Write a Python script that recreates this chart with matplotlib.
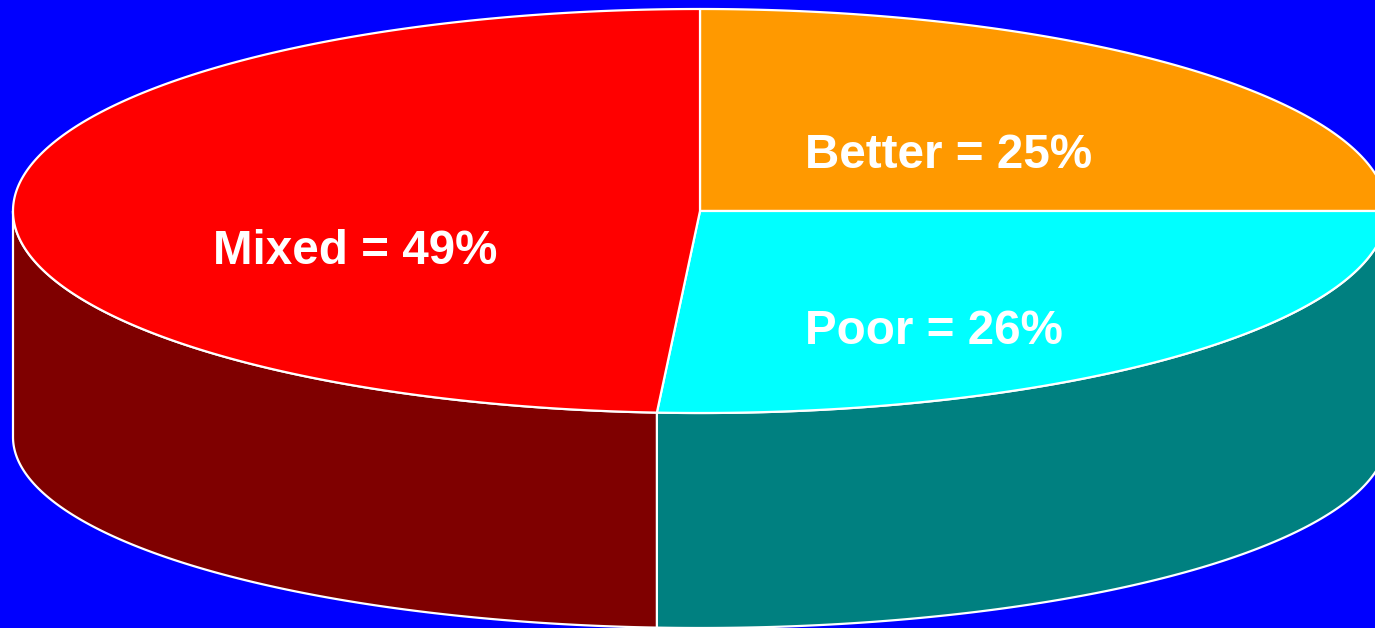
import numpy as np
import matplotlib
matplotlib.use("Agg")
import matplotlib.pyplot as plt
from matplotlib.patches import Polygon

# Survey result shares (percent)
labels = ["Better", "Poor", "Mixed"]
shares = [25, 26, 49]
top_colors = ["#FF9900", "#00FFFF", "#FF0000"]
side_colors = ["#7F4C00", "#008080", "#7F0000"]

W, H = 1375, 628
fig = plt.figure(figsize=(W / 100, H / 100), dpi=100, facecolor="#0000FF")
ax = fig.add_axes([0, 0, 1, 1])
ax.set_facecolor("#0000FF")
ax.set_xlim(0, W)
ax.set_ylim(H, 0)
ax.axis("off")

# Cylinder geometry in pixel space (bottom rim slightly flatter for perspective)
cx, cy = 700, 211
a, b = 687, 202
depth = 226
b_bottom = 191


def pt(theta_deg, bottom=False):
    t = np.radians(theta_deg)
    if bottom:
        return np.column_stack([cx + a * np.cos(t), cy + depth - b_bottom * np.sin(t)])
    return np.column_stack([cx + a * np.cos(t), cy - b * np.sin(t)])


# Wedge angles: start at 12 o'clock, go clockwise
total = sum(shares)
bounds = []
start = 90.0
for s in shares:
    end = start - 360.0 * s / total
    bounds.append((start, end))
    start = end

edge_kw = dict(edgecolor="white", linewidth=1.6, joinstyle="round")

# Side walls (only the front half, angles in (-180, 0))
for (t0, t1), sc in zip(bounds, side_colors):
    lo, hi = min(t0, t1), max(t0, t1)
    for shift in (0, -360, 360):
        l, h = lo + shift, hi + shift
        l2, h2 = max(l, -180), min(h, 0)
        if h2 > l2:
            th = np.linspace(h2, l2, 200)
            top = pt(th)
            bot = pt(th[::-1], bottom=True)
            ax.add_patch(Polygon(np.vstack([top, bot]), closed=True,
                                 facecolor=sc, zorder=1, **edge_kw))

# Top faces
for (t0, t1), tc in zip(bounds, top_colors):
    th = np.linspace(t0, t1, 300)
    poly = np.vstack([[cx, cy], pt(th)])
    ax.add_patch(Polygon(poly, closed=True, facecolor=tc, zorder=2, **edge_kw))

# Labels
label_pos = {"Better": (805, 155), "Poor": (805, 331), "Mixed": (213, 251)}
for lab, s in zip(labels, shares):
    x, y = label_pos[lab]
    ax.text(x, y, f"{lab} = {s}%", color="white", fontsize=34.3,
            fontweight="bold", family=["Liberation Sans", "DejaVu Sans"],
            ha="left", va="center", zorder=3)

fig.savefig("out.png", dpi=100, facecolor=fig.get_facecolor())
